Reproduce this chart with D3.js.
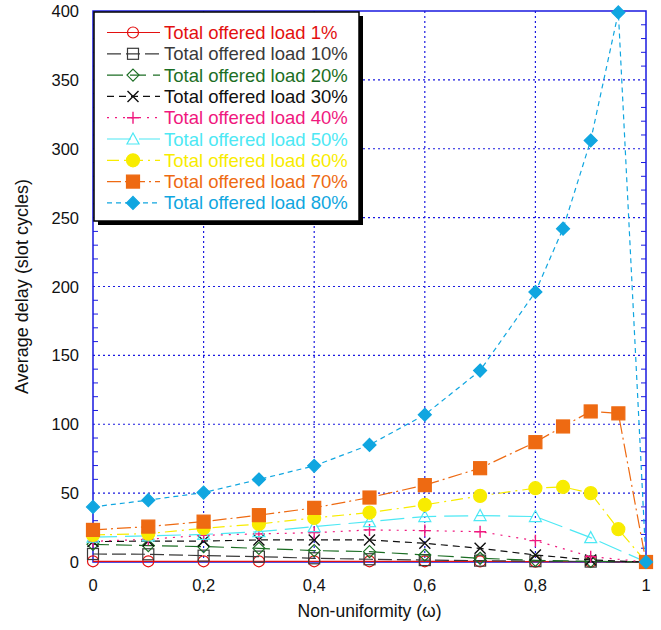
<!DOCTYPE html>
<html lang="en">
<head>
<meta charset="utf-8">
<title>Average delay vs non-uniformity</title>
<script src="https://d3js.org/d3.v7.min.js"></script>
<style>
  body { margin: 0; background: #fff; }
  svg text { font-family: "Liberation Sans", Arial, sans-serif; }
</style>
</head>
<body>
<script>
// data
const xBase = [0, 0.1, 0.2, 0.3, 0.4, 0.5, 0.6, 0.7, 0.8, 0.9, 1];
const xFine = [0, 0.1, 0.2, 0.3, 0.4, 0.5, 0.6, 0.7, 0.8, 0.85, 0.9, 0.95, 1];

const load1  = [0.5, 0.5, 0.5, 0.5, 0.5, 0.5, 0.5, 0.4, 0.3, 0.2, 0];
const load10 = [5.8, 5.6, 4.6, 3.9, 2.7, 2.0, 1.4, 1.0, 0.6, 0.3, 0];
const load20 = [12.8, 11.9, 11.2, 9.9, 8.3, 7.5, 5.1, 2.7, 1.2, 0.5, 0];
const load30 = [14.8, 15.2, 15.2, 16, 16, 16, 13.6, 9.9, 5.1, 1.5, 0];
const load40 = [15, 16.5, 19.4, 20.4, 21.3, 23.3, 22.8, 22, 15.5, 3.9, 0];
const load50 = [18, 19, 20, 22, 25.7, 29.3, 33, 33.7, 33, 17.7, 0];
const load60 = [19.6, 20.6, 24.5, 27.6, 32, 35.9, 41.5, 48, 53.6, 54.5, 50, 23.8, 0];
const load70 = [23.3, 25.7, 29.3, 34, 39.3, 46.8, 55.8, 68.1, 87, 98.4, 109.3, 107.9, 0];
const load80 = [40, 44.9, 50.4, 59.9, 69.8, 85, 106.9, 139, 196, 242, 306, 399, 0];

const xTicks = [0, 0.2, 0.4, 0.6, 0.8, 1];
const yTicks = [0, 50, 100, 150, 200, 250, 300, 350, 400];

const series = [
  {name: "Total offered load 1%",  x: xBase, y: load1,  color: "#e31010", dash: null,        marker: "circle",   fill: false},
  {name: "Total offered load 10%", x: xBase, y: load10, color: "#3a3a3a", dash: "14,5",      marker: "square",   fill: false},
  {name: "Total offered load 20%", x: xBase, y: load20, color: "#1c6e24", dash: "16,7",      marker: "diamond",  fill: false},
  {name: "Total offered load 30%", x: xBase, y: load30, color: "#101010", dash: "7,5",       marker: "cross",    fill: false},
  {name: "Total offered load 40%", x: xBase, y: load40, color: "#f0187e", dash: "2,6",       marker: "plus",     fill: false},
  {name: "Total offered load 50%", x: xBase, y: load50, color: "#4de8f4", dash: "24,8",      marker: "triangle", fill: false},
  {name: "Total offered load 60%", x: xFine, y: load60, color: "#f8ec00", dash: "12,5,2,5",  marker: "circle",   fill: true},
  {name: "Total offered load 70%", x: xFine, y: load70, color: "#ee6a12", dash: "14,4,2,4",  marker: "square",   fill: true},
  {name: "Total offered load 80%", x: xFine, y: load80, color: "#10a6e0", dash: "5,4",       marker: "diamond",  fill: true}
];

const W = 661, H = 630;
const margin = {top: 11, right: 15, bottom: 68, left: 93};

const svg = d3.select("body").append("svg")
  .attr("width", W).attr("height", H);

const x = d3.scaleLinear().domain([0, 1]).range([margin.left, W - margin.right]);
const y = d3.scaleLinear().domain([0, 400]).range([H - margin.bottom, margin.top]);

const axisBlue = "#1a1ae0";

// grid
svg.append("g").selectAll("line")
  .data(xTicks.slice(1, -1))
  .join("line")
  .attr("x1", d => x(d)).attr("x2", d => x(d))
  .attr("y1", y(400)).attr("y2", y(0))
  .attr("stroke", axisBlue).attr("stroke-width", 1.2)
  .attr("stroke-dasharray", "2,3");

svg.append("g").selectAll("line")
  .data(yTicks.slice(1, -1))
  .join("line")
  .attr("x1", x(0)).attr("x2", x(1))
  .attr("y1", d => y(d)).attr("y2", d => y(d))
  .attr("stroke", axisBlue).attr("stroke-width", 1.2)
  .attr("stroke-dasharray", "2,3");

// minor ticks on left and right axes (inside)
const minorY = d3.range(10, 400, 10);
svg.append("g").selectAll("line")
  .data(minorY)
  .join("line")
  .attr("x1", x(0)).attr("x2", d => x(0) + (d % 50 === 0 ? 0 : 5))
  .attr("y1", d => y(d)).attr("y2", d => y(d))
  .attr("stroke", axisBlue);
svg.append("g").selectAll("line")
  .data(minorY)
  .join("line")
  .attr("x1", x(1)).attr("x2", d => x(1) - (d % 50 === 0 ? 0 : 5))
  .attr("y1", d => y(d)).attr("y2", d => y(d))
  .attr("stroke", axisBlue);

// frame
svg.append("rect")
  .attr("x", x(0)).attr("y", y(400))
  .attr("width", x(1) - x(0)).attr("height", y(0) - y(400))
  .attr("fill", "none").attr("stroke", axisBlue).attr("stroke-width", 1.5);

// tick labels
svg.append("g").selectAll("text")
  .data(xTicks)
  .join("text")
  .attr("x", d => x(d)).attr("y", y(0) + 29)
  .attr("text-anchor", "middle")
  .attr("font-size", 16.5).attr("fill", "#111")
  .text(d => String(d).replace(".", ","));

svg.append("g").selectAll("text")
  .data(yTicks)
  .join("text")
  .attr("x", x(0) - 14).attr("y", d => y(d) + 6)
  .attr("text-anchor", "end")
  .attr("font-size", 16.5).attr("fill", "#111")
  .text(d => d);

// axis titles
svg.append("text")
  .attr("x", (x(0) + x(1)) / 2).attr("y", H - 13)
  .attr("text-anchor", "middle").attr("font-size", 17.5).attr("fill", "#111")
  .text("Non-uniformity (ω)");

svg.append("text")
  .attr("transform", `translate(28,${(y(0) + y(400)) / 2}) rotate(-90)`)
  .attr("text-anchor", "middle").attr("font-size", 18).attr("fill", "#111")
  .text("Average delay (slot cycles)");

// markers
function drawMarker(g, s, cx, cy) {
  const fill = s.fill ? s.color : "#fff";
  const fo = s.fill ? 1 : 0;
  if (s.marker === "circle") {
    g.append("circle").attr("cx", cx).attr("cy", cy).attr("r", s.fill ? 6.5 : 5.5)
      .attr("fill", fill).attr("fill-opacity", fo).attr("stroke", s.color).attr("stroke-width", 1.2);
  } else if (s.marker === "square") {
    const h = s.fill ? 6.5 : 5.5;
    g.append("rect").attr("x", cx - h).attr("y", cy - h).attr("width", 2 * h).attr("height", 2 * h)
      .attr("fill", fill).attr("fill-opacity", fo).attr("stroke", s.color).attr("stroke-width", 1.2);
  } else if (s.marker === "diamond") {
    const h = s.fill ? 6.5 : 6;
    g.append("path").attr("d", `M${cx},${cy - h}L${cx + h},${cy}L${cx},${cy + h}L${cx - h},${cy}Z`)
      .attr("fill", fill).attr("fill-opacity", fo).attr("stroke", s.color).attr("stroke-width", 1.2);
  } else if (s.marker === "triangle") {
    g.append("path").attr("d", `M${cx},${cy - 6}L${cx + 6},${cy + 5}L${cx - 6},${cy + 5}Z`)
      .attr("fill", "none").attr("stroke", s.color).attr("stroke-width", 1.2);
  } else if (s.marker === "cross") {
    g.append("path").attr("d", `M${cx - 5.5},${cy - 5.5}L${cx + 5.5},${cy + 5.5}M${cx - 5.5},${cy + 5.5}L${cx + 5.5},${cy - 5.5}`)
      .attr("stroke", s.color).attr("stroke-width", 1.4);
  } else if (s.marker === "plus") {
    g.append("path").attr("d", `M${cx - 6},${cy}L${cx + 6},${cy}M${cx},${cy - 6}L${cx},${cy + 6}`)
      .attr("stroke", s.color).attr("stroke-width", 1.4);
  }
}

const line = d3.line().x(d => x(d[0])).y(d => y(d[1]));

series.forEach(s => {
  const pts = s.x.map((v, i) => [v, s.y[i]]);
  const g = svg.append("g");
  g.append("path")
    .attr("d", line(pts))
    .attr("fill", "none")
    .attr("stroke", s.color).attr("stroke-width", 1.2)
    .attr("stroke-dasharray", s.dash);
  pts.forEach(p => drawMarker(g, s, x(p[0]), y(p[1])));
});

// legend
const lg = svg.append("g");
const lx = x(0) + 1, ly = y(400) + 1, lw = 265, lh = 209;
lg.append("rect").attr("x", lx + 4).attr("y", ly + 4).attr("width", lw).attr("height", lh).attr("fill", "#000");
lg.append("rect").attr("x", lx).attr("y", ly).attr("width", lw).attr("height", lh)
  .attr("fill", "#fff").attr("stroke", "#000").attr("stroke-width", 1.5);

series.forEach((s, i) => {
  const cy = ly + 20.5 + i * 21.3;
  lg.append("line").attr("x1", lx + 13).attr("x2", lx + 66).attr("y1", cy).attr("y2", cy)
    .attr("stroke", s.color).attr("stroke-width", 1.2).attr("stroke-dasharray", s.dash);
  drawMarker(lg, s, lx + 39, cy);
  lg.append("text").attr("x", lx + 70).attr("y", cy + 6.5)
    .attr("font-size", 18.5).attr("fill", s.color)
    .text(s.name);
});
</script>
</body>
</html>
